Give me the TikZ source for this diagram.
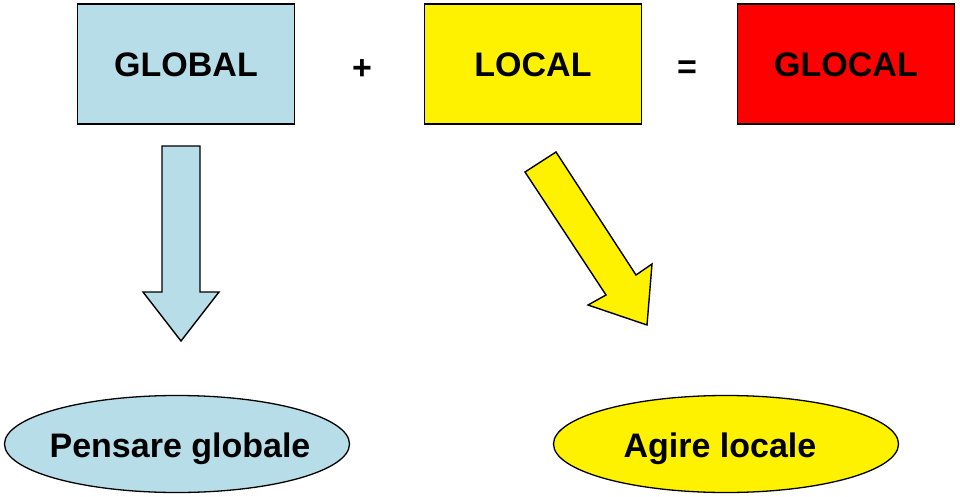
\documentclass[tikz,border=0pt]{standalone}
\usepackage{fontspec}
\setmainfont{Liberation Sans}
\usepackage{xcolor}
\usepackage{tikz}
\usetikzlibrary{positioning, shapes.geometric}

\definecolor{paleblue}{HTML}{B7DEE8}

\begin{document}
\begin{tikzpicture}[x=1pt, y=-1pt,
    word/.style={font=\fontsize{34}{40}\selectfont\bfseries, inner sep=0pt},
    termbox/.style={draw, line width=1.6pt, minimum width=217pt, minimum height=120pt},
    oval/.style={ellipse, draw, line width=1.3pt, minimum width=345pt, minimum height=97pt, inner sep=0pt},
    blockarrow/.style={draw, line width=1.4pt, line join=miter},
]
\useasboundingbox (0,0) rectangle (960,497);

% top row
\node[termbox, fill=paleblue] (global) at (186,64) {};
\node[word] at (186,65) {GLOBAL};
\node[word] (plus) at (362,70) {+};
\node[termbox, fill=yellow] (local) at (533,64) {};
\node[word] at (533,65) {LOCAL};
\node[word] (equals) at (687,70) {=};
\node[termbox, fill=red] (glocal) at (846,64) {};
\node[word] at (846,65) {GLOCAL};

% arrows
\draw[blockarrow, fill=paleblue] (162,146) -- (200,146) -- (200,292) -- (219,292)
    -- (181,341) -- (143,292) -- (162,292) -- cycle;
\draw[blockarrow, fill=yellow] (525,172) -- (556,152) -- (636,275) -- (652,264)
    -- (647,325) -- (588,305) -- (606,295) -- cycle;

% bottom row
\node[oval, fill=paleblue] (think) at (177,444) {};
\node[word] at (180,449) {Pensare globale};
\node[oval, fill=yellow] (act) at (726,444) {};
\node[word] at (720,449) {Agire locale};

\end{tikzpicture}
\end{document}
